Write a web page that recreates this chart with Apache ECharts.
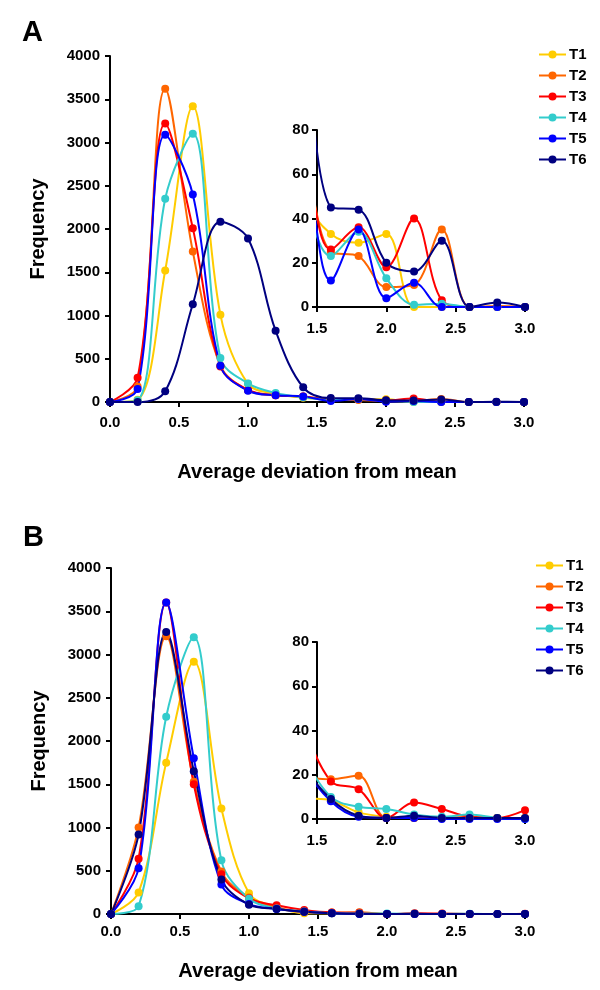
<!DOCTYPE html>
<html>
<head>
<meta charset="utf-8">
<script src="https://cdn.jsdelivr.net/npm/echarts@6/dist/echarts.min.js"></script>
<style>html,body{margin:0;padding:0;background:#fff}#c{width:600px;height:990px}</style>
</head>
<body>
<div id="c"></div>
<script>
// x positions (average deviation from mean)
const xs = [0.0, 0.2, 0.4, 0.6, 0.8, 1.0, 1.2, 1.4, 1.6, 1.8, 2.0, 2.2, 2.4, 2.6, 2.8, 3.0];
const names = ['T1', 'T2', 'T3', 'T4', 'T5', 'T6'];
const colors = ['#FFCC00', '#FF6600', '#FF0000', '#33CCCC', '#0000FF', '#000080'];

// Panel A frequencies
const aT1 = [0, 25, 1520, 3420, 1010, 210, 95, 50, 33, 29, 33, 0, 0, 0, 0, 0];
const aT2 = [0, 180, 3620, 1740, 420, 135, 77, 65, 25, 23, 9, 10, 35, 0, 0.5, 0];
const aT3 = [0, 280, 3220, 2010, 410, 140, 77, 65, 26, 36, 18, 40, 3, 0, 0, 0];
const aT4 = [0, 20, 2350, 3100, 510, 215, 104, 55, 23, 34, 13, 1, 1.5, 0, 0, 0];
const aT5 = [0, 150, 3090, 2400, 420, 130, 77, 65, 12, 35, 4, 11, 0, 0, 0, 0];
const aT6 = [0, 0, 125, 1130, 2085, 1890, 825, 170, 45, 44, 20, 16, 30, 0, 2, 0];

// Panel B frequencies
const bT1 = [0, 250, 1750, 2915, 1220, 240, 80, 10, 8.5, 3, 1, 0.5, 0.5, 0.5, 0.5, 0.5];
const bT2 = [0, 1000, 3210, 1530, 490, 190, 77, 22, 18, 19.5, 0.5, 0.5, 0.5, 1, 0.5, 0.5];
const bT3 = [0, 640, 3600, 1500, 460, 180, 100, 45, 17, 13.5, 0.5, 7.5, 4.5, 1, 0.5, 4];
const bT4 = [0, 90, 2280, 3200, 620, 175, 65, 30, 10, 5.5, 4.5, 2, 1, 2, 0.5, 0];
const bT5 = [0, 530, 3600, 1800, 340, 115, 58, 25, 8, 1, 0.5, 0.5, 0, 0, 0, 0];
const bT6 = [0, 920, 3260, 1650, 400, 108, 58, 25, 9, 1.5, 0.5, 1.5, 0.5, 0.5, 0.5, 0.5];

const mainTicks = {min: 0, max: 4000, interval: 500};
const insetTicks = {min: 0, max: 80, interval: 20};

const panelA = [aT1, aT2, aT3, aT4, aT5, aT6];
const panelB = [bT1, bT2, bT3, bT4, bT5, bT6];

const FONT = 'Liberation Sans';
const lab = {fontFamily: FONT, fontWeight: 'bold', fontSize: 15, color: '#000'};
const axLine = {show: true, onZero: false, lineStyle: {color: '#000', width: 2}};
const tick = {show: true, inside: false, length: 5, lineStyle: {color: '#000', width: 2}};

function xAx(grid, min, nameGap, margin) {
  return {
    type: 'value', gridIndex: grid, min: min, max: 3, interval: 0.5,
    axisLine: axLine, axisTick: tick, splitLine: {show: false},
    axisLabel: Object.assign({margin: margin, formatter: v => v.toFixed(1)}, lab),
    name: nameGap ? 'Average deviation from mean' : '',
    nameLocation: 'middle', nameGap: nameGap || 0,
    nameTextStyle: {fontFamily: FONT, fontWeight: 'bold', fontSize: 20, color: '#000'}
  };
}
function yAx(grid, t, showName) {
  return {
    type: 'value', gridIndex: grid, min: t.min, max: t.max, interval: t.interval,
    axisLine: axLine, axisTick: tick, splitLine: {show: false},
    axisLabel: Object.assign({margin: showName ? 10 : 8, formatter: v => String(v)}, lab),
    name: showName ? 'Frequency' : '',
    nameLocation: 'middle', nameGap: 62,
    nameTextStyle: {fontFamily: FONT, fontWeight: 'bold', fontSize: 20, color: '#000'}
  };
}

const series = [];
function addSeries(panel, axisIdx, clip) {
  panel.forEach((vals, i) => {
    series.push({
      name: names[i], type: 'line', xAxisIndex: axisIdx, yAxisIndex: axisIdx,
      data: xs.map((x, k) => [x, vals[k]]),
      smooth: 0.35, clip: clip,
      symbol: 'circle', symbolSize: 8, showSymbol: true,
      color: colors[i],
      lineStyle: {width: 2, color: colors[i]},
      itemStyle: {color: colors[i]},
      emphasis: {disabled: true},
      animation: false
    });
  });
}
addSeries(panelA, 0, false);
addSeries(panelA, 1, true);
addSeries(panelB, 2, false);
addSeries(panelB, 3, true);

function legend(left, top) {
  return {
    data: names, orient: 'vertical', left: left, top: top,
    itemWidth: 27, itemHeight: 10, itemGap: 6,
    textStyle: {fontFamily: FONT, fontWeight: 'bold', fontSize: 15, color: '#000', lineHeight: 14, padding: [0, 0, 0, -2]},
    selectedMode: false
  };
}

const option = {
  animation: false,
  backgroundColor: '#fff',
  grid: [
    {left: 110, top: 56, width: 414, height: 346},
    {left: 317, top: 130, width: 208, height: 177},
    {left: 111, top: 568, width: 414, height: 346},
    {left: 317, top: 642, width: 208, height: 177}
  ],
  xAxis: [xAx(0, 0, 60, 13), xAx(1, 1.5, 0, 14), xAx(2, 0, 47, 10), xAx(3, 1.5, 0, 14)],
  yAxis: [yAx(0, mainTicks, true), yAx(1, insetTicks, false), yAx(2, mainTicks, true), yAx(3, insetTicks, false)],
  legend: [legend(533, 42), legend(530, 553)],
  graphic: [
    {type: 'text', left: 22, top: 18, style: {text: 'A', fontFamily: FONT, fontWeight: 'bold', fontSize: 29, fill: '#000'}},
    {type: 'text', left: 23, top: 523, style: {text: 'B', fontFamily: FONT, fontWeight: 'bold', fontSize: 29, fill: '#000'}}
  ],
  series: series
};

const chart = echarts.init(document.getElementById('c'), null, {renderer: 'canvas'});
chart.setOption(option);
</script>
</body>
</html>
